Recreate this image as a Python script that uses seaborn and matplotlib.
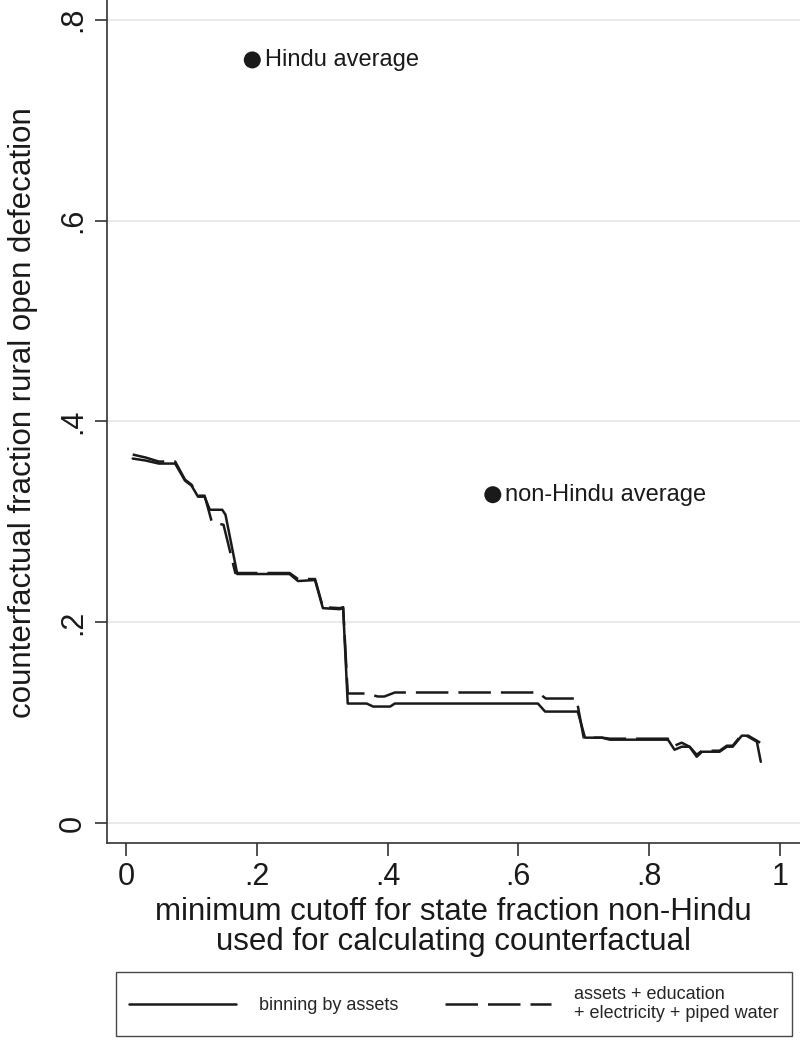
import numpy as np
import pandas as pd
import matplotlib
matplotlib.use("Agg")
import matplotlib.pyplot as plt
import seaborn as sns

# binning by assets (solid)
assets_x = [0.01, 0.03, 0.05, 0.075, 0.09, 0.10, 0.11, 0.12, 0.128, 0.147, 0.152, 0.170,
            0.25, 0.263, 0.289, 0.301, 0.327, 0.332, 0.339, 0.368, 0.378, 0.404, 0.411,
            0.630, 0.641, 0.691, 0.702, 0.728, 0.740, 0.829, 0.839, 0.850, 0.862, 0.873,
            0.881, 0.908, 0.919, 0.928, 0.942, 0.949, 0.965, 0.971]
assets_y = [0.363, 0.361, 0.358, 0.358, 0.341, 0.336, 0.325, 0.325, 0.312, 0.312, 0.307, 0.248,
            0.248, 0.241, 0.242, 0.214, 0.213, 0.214, 0.119, 0.119, 0.116, 0.116, 0.119,
            0.119, 0.111, 0.111, 0.085, 0.085, 0.083, 0.083, 0.073, 0.076, 0.076, 0.066,
            0.071, 0.071, 0.076, 0.076, 0.087, 0.087, 0.081, 0.061]

# assets + education + electricity + piped water (dashed)
full_x = [0.01, 0.03, 0.05, 0.075, 0.09, 0.10, 0.11, 0.12, 0.131, 0.149, 0.167,
          0.25, 0.263, 0.289, 0.301, 0.327, 0.332, 0.339, 0.368, 0.385, 0.395, 0.411,
          0.630, 0.642, 0.689, 0.700, 0.728, 0.740, 0.829, 0.839, 0.850, 0.862, 0.873,
          0.881, 0.908, 0.919, 0.928, 0.942, 0.949, 0.965, 0.970]
full_y = [0.367, 0.364, 0.360, 0.360, 0.342, 0.337, 0.326, 0.326, 0.300, 0.297, 0.249,
          0.249, 0.243, 0.243, 0.215, 0.214, 0.215, 0.129, 0.129, 0.126, 0.126, 0.130,
          0.130, 0.124, 0.124, 0.085, 0.085, 0.084, 0.084, 0.077, 0.080, 0.076, 0.068,
          0.072, 0.072, 0.077, 0.077, 0.088, 0.088, 0.082, 0.080]

# group averages
avg_labels = ["Hindu average", "non-Hindu average"]
avg_x = [0.193, 0.561]
avg_y = [0.760, 0.327]

x_ticks = [0, 0.2, 0.4, 0.6, 0.8, 1]
x_ticklabels = ["0", ".2", ".4", ".6", ".8", "1"]
y_ticks = [0, 0.2, 0.4, 0.6, 0.8]
y_ticklabels = ["0", ".2", ".4", ".6", ".8"]

sns.set_theme(style="white")
plt.rcParams["font.family"] = ["Liberation Sans", "DejaVu Sans"]

fig = plt.figure(figsize=(8, 10.41), dpi=100)
ax = fig.add_axes([0.134, 0.1902, 0.866, 0.8098])

df_a = pd.DataFrame({"x": assets_x, "y": assets_y})
df_f = pd.DataFrame({"x": full_x, "y": full_y})

sns.lineplot(data=df_a, x="x", y="y", ax=ax, color="#1a1a1a", linewidth=1.8,
             sort=False, label="binning by assets")
sns.lineplot(data=df_f, x="x", y="y", ax=ax, color="#1a1a1a", linewidth=1.8,
             sort=False, label="assets + education\n+ electricity + piped water")
ax.lines[1].set_dashes([13, 4])

df_avg = pd.DataFrame({"x": avg_x, "y": avg_y, "label": avg_labels})
sns.scatterplot(data=df_avg, x="x", y="y", ax=ax, color="#1a1a1a", s=150,
                edgecolor="none", legend=False)
for _, row in df_avg.iterrows():
    ax.text(row["x"] + 0.019, row["y"], row["label"], fontsize=17,
            va="center", ha="left", color="#1a1a1a")

ax.set_xlim(-0.029, 1.031)
ax.set_ylim(-0.0199, 0.8197)
ax.set_xticks(x_ticks)
ax.set_xticklabels(x_ticklabels)
ax.set_yticks(y_ticks)
ax.set_yticklabels(y_ticklabels, rotation=90, va="center")
ax.tick_params(axis="both", which="major", direction="out", length=9, width=1.2,
               color="#333333", labelsize=22, labelcolor="#1a1a1a", pad=5,
               bottom=True, left=True)
ax.yaxis.grid(True, color="#e6e6e6", linewidth=1.2)
ax.xaxis.grid(False)

for side in ["top", "right"]:
    ax.spines[side].set_visible(False)
for side in ["left", "bottom"]:
    ax.spines[side].set_color("#333333")
    ax.spines[side].set_linewidth(1.2)

ax.set_xlabel("minimum cutoff for state fraction non-Hindu\nused for calculating counterfactual",
              fontsize=22.5, color="#1a1a1a", linespacing=1.0)
ax.xaxis.set_label_coords(0.5, -0.064, transform=ax.transAxes)
ax.xaxis.label.set_va("top")
ax.set_ylabel("counterfactual fraction rural open defecation", fontsize=22.5,
              color="#1a1a1a")
ax.yaxis.set_label_coords(-0.1, 0.511, transform=ax.transAxes)

handles, labels = ax.get_legend_handles_labels()
ax.get_legend().remove()
leg = fig.legend(handles, labels, loc="lower center", bbox_to_anchor=(0.5675, 0.005),
                 borderaxespad=0, ncol=2, fontsize=13, frameon=True, fancybox=False,
                 handlelength=5.9, handletextpad=1.25, borderpad=0.75, columnspacing=2.6)
leg.get_frame().set_edgecolor("#1a1a1a")
leg.get_frame().set_linewidth(1.0)

fig.savefig("out.png", dpi=100, facecolor="white")
